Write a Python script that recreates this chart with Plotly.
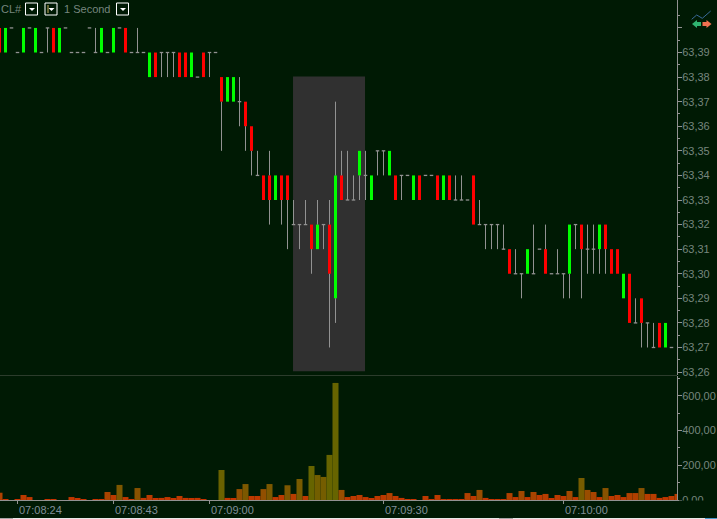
import plotly.graph_objects as go

# bar number = one second of the chart, left to right
opens = [63.40,63.39,63.40,63.39,63.39,63.40,63.39,63.39,63.40,63.40,63.39,63.40,63.39,63.39,63.39,63.40,63.39,63.39,63.39,63.39,
         63.40,63.40,63.39,63.39,63.39,63.38,63.39,63.39,63.39,63.39,63.39,63.39,63.38,63.38,63.39,63.39,63.39,63.38,63.37,63.37,
         63.37,63.37,63.36,63.34,63.34,63.34,63.33,63.34,63.34,63.32,63.32,63.32,63.32,63.31,63.32,63.32,63.29,63.34,63.33,63.33,
         63.34,63.34,63.33,63.35,63.35,63.34,63.34,63.34,63.34,63.33,63.34,63.34,63.34,63.34,63.33,63.34,63.33,63.33,63.33,63.34,
         63.32,63.32,63.32,63.32,63.31,63.31,63.30,63.30,63.30,63.30,63.31,63.31,63.30,63.30,63.30,63.30,63.32,63.32,63.31,63.31,
         63.31,63.32,63.31,63.31,63.29,63.30,63.28,63.29,63.28,63.27,63.28,63.27,63.27]
highs = [63.40,63.40,63.40,63.39,63.40,63.40,63.40,63.39,63.40,63.40,63.40,63.40,63.39,63.39,63.39,63.40,63.40,63.40,63.39,63.40,
         63.40,63.40,63.39,63.40,63.39,63.39,63.39,63.39,63.39,63.39,63.39,63.39,63.39,63.38,63.39,63.39,63.39,63.38,63.38,63.38,
         63.38,63.37,63.36,63.35,63.34,63.35,63.34,63.34,63.34,63.33,63.32,63.33,63.32,63.33,63.32,63.33,63.37,63.35,63.35,63.34,
         63.35,63.35,63.34,63.35,63.35,63.35,63.34,63.34,63.34,63.34,63.34,63.34,63.34,63.34,63.34,63.34,63.34,63.34,63.33,63.34,
         63.33,63.32,63.32,63.32,63.32,63.31,63.31,63.30,63.31,63.32,63.31,63.32,63.30,63.31,63.30,63.32,63.32,63.32,63.32,63.32,
         63.32,63.32,63.31,63.31,63.30,63.30,63.29,63.29,63.28,63.28,63.28,63.28,63.27]
lows = [63.39,63.39,63.40,63.39,63.39,63.40,63.39,63.39,63.39,63.39,63.39,63.40,63.39,63.39,63.39,63.40,63.39,63.39,63.39,63.39,
        63.40,63.39,63.39,63.39,63.39,63.38,63.38,63.38,63.38,63.38,63.38,63.38,63.38,63.38,63.38,63.38,63.39,63.35,63.37,63.37,
        63.36,63.35,63.34,63.34,63.33,63.32,63.33,63.32,63.31,63.32,63.31,63.32,63.30,63.31,63.31,63.27,63.28,63.33,63.33,63.33,
        63.33,63.33,63.33,63.34,63.34,63.34,63.33,63.33,63.34,63.33,63.33,63.34,63.34,63.33,63.33,63.33,63.33,63.33,63.33,63.32,
        63.32,63.31,63.31,63.31,63.31,63.30,63.30,63.29,63.30,63.30,63.31,63.30,63.30,63.30,63.29,63.29,63.31,63.29,63.30,63.30,
        63.30,63.30,63.30,63.30,63.29,63.28,63.28,63.27,63.27,63.27,63.27,63.27,63.27]
closes = [63.39,63.40,63.40,63.39,63.40,63.40,63.40,63.39,63.40,63.39,63.40,63.40,63.39,63.39,63.39,63.40,63.39,63.40,63.39,63.40,
          63.40,63.39,63.39,63.39,63.39,63.39,63.38,63.39,63.39,63.39,63.38,63.38,63.39,63.38,63.38,63.39,63.39,63.37,63.38,63.38,
          63.37,63.36,63.35,63.34,63.33,63.33,63.34,63.33,63.33,63.32,63.32,63.32,63.31,63.32,63.32,63.30,63.34,63.33,63.33,63.33,
          63.35,63.34,63.34,63.35,63.35,63.35,63.33,63.34,63.34,63.34,63.33,63.34,63.34,63.33,63.34,63.33,63.33,63.33,63.33,63.32,
          63.32,63.32,63.32,63.32,63.31,63.30,63.30,63.30,63.31,63.30,63.31,63.30,63.30,63.30,63.30,63.32,63.32,63.31,63.31,63.31,
          63.32,63.31,63.30,63.30,63.30,63.28,63.28,63.28,63.28,63.27,63.27,63.28,63.27]
volumes = [42,4,0,4,29,17,0,0,4,4,0,0,17,6,2,0,4,4,46,29,
           87,17,2,69,12,29,6,12,17,6,23,12,6,12,2,0,0,173,12,6,
           63,92,23,23,63,92,17,29,85,35,121,23,196,144,133,260,675,58,17,23,
           29,17,6,23,29,40,23,12,4,4,0,23,4,29,4,4,4,4,40,23,
           58,12,4,4,4,40,17,52,17,46,29,35,6,29,23,52,17,127,58,46,
           17,69,23,29,17,40,40,69,35,35,12,17,23,35]

price_ticks = [63.26,63.27,63.28,63.29,63.30,63.31,63.32,63.33,63.34,63.35,63.36,63.37,63.38,63.39,63.40]
price_labels = ["63,26","63,27","63,28","63,29","63,30","63,31","63,32","63,33","63,34","63,35","63,36","63,37","63,38","63,39",""]
vol_ticks = [0,200,400,600]
time_bars = [3,19,35,64,94]
time_labels = ["07:08:24","07:08:43","07:09:00","07:09:30","07:10:00"]

BG = "#001a04"
GREY = "#929292"
TXT = "#76867e"

# helpers for placing things by screen pixel
PLOT_W, PLOT_H = 677, 500
def px(x): return x / PLOT_W
def py(y): return (PLOT_H - y) / PLOT_H

bars = list(range(len(opens)))

# split bars into bodies / wick pieces / flat ticks
up_x, up_base, up_h = [], [], []
dn_x, dn_base, dn_h = [], [], []
wick_x, wick_y = [], []
flat_x, flat_y = [], []
for i in bars:
    top, bot = max(opens[i], closes[i]), min(opens[i], closes[i])
    if closes[i] > opens[i]:
        up_x.append(i); up_base.append(bot); up_h.append(top - bot)
    elif closes[i] < opens[i]:
        dn_x.append(i); dn_base.append(bot); dn_h.append(top - bot)
    else:
        flat_x.append(i); flat_y.append(opens[i])
    if highs[i] > top:
        wick_x += [i, i, None]; wick_y += [highs[i], top, None]
    if lows[i] < bot:
        wick_x += [i, i, None]; wick_y += [bot, lows[i], None]

fig = go.Figure()

# price pane
fig.add_trace(go.Bar(x=up_x, y=up_h, base=up_base, width=0.5, marker=dict(color="#00ff00", line=dict(width=0)), xaxis="x", yaxis="y"))
fig.add_trace(go.Bar(x=dn_x, y=dn_h, base=dn_base, width=0.5, marker=dict(color="#ff0000", line=dict(width=0)), xaxis="x", yaxis="y"))
fig.add_trace(go.Scatter(x=wick_x, y=wick_y, mode="lines", line=dict(color=GREY, width=1), xaxis="x", yaxis="y"))
fig.add_trace(go.Scatter(x=flat_x, y=flat_y, mode="markers",
                         marker=dict(symbol="line-ew", size=2.5, line=dict(color=GREY, width=1.3)), xaxis="x", yaxis="y"))

# volume pane, colour goes from red-orange to olive with size
fig.add_trace(go.Bar(x=list(range(len(volumes))), y=volumes, width=1,
                     marker=dict(color=volumes, cmin=0, cmax=190, line=dict(width=0),
                                 colorscale=[[0, "#c83200"], [0.18, "#b83c00"], [0.3, "#9a4c00"],
                                             [0.4, "#7e5600"], [0.6, "#7a5a00"], [1, "#666400"]]),
                     xaxis="x2", yaxis="y2"))

shapes = [
    # highlighted block behind the price bars
    dict(type="rect", xref="x", yref="y", x0=48.92, x1=60.92, y0=63.2603, y1=63.3802,
         fillcolor="#303030", line=dict(width=0), layer="below"),
    # pane divider
    dict(type="line", xref="paper", yref="paper", x0=0, x1=1, y0=py(375.5), y1=py(375.5), line=dict(color="#2c3c2c", width=1)),
    # hides the lower half of the 0,00 label
    dict(type="rect", xref="paper", yref="paper", x0=px(679), x1=px(717), y0=py(500.5), y1=py(518),
         fillcolor=BG, line=dict(width=0), layer="above"),
    # window edge along the bottom
    dict(type="rect", xref="paper", yref="paper", x0=0, x1=px(717), y0=py(518), y1=py(519),
         fillcolor="#e8e8e8", line=dict(width=0), layer="above"),
    dict(type="rect", xref="paper", yref="paper", x0=0, x1=px(13), y0=py(518), y1=py(519),
         fillcolor="#a8a8a8", line=dict(width=0), layer="above"),
    dict(type="rect", xref="paper", yref="paper", x0=px(499), x1=px(513), y0=py(518), y1=py(519),
         fillcolor="#a8a8a8", line=dict(width=0), layer="above"),
    dict(type="rect", xref="paper", yref="paper", x0=px(705), x1=px(717), y0=py(518), y1=py(519),
         fillcolor="#4a9ad0", line=dict(width=0), layer="above"),
]

# toolbar drop down buttons
for x0 in [25.5, 45, 116.5]:
    shapes.append(dict(type="rect", xref="paper", yref="paper", x0=px(x0), x1=px(x0 + 12), y0=py(3), y1=py(15),
                       line=dict(color="#ffffff", width=1), fillcolor=BG))
    c = x0 + 6.5
    shapes.append(dict(type="path", xref="paper", yref="paper",
                       path=f"M {px(c-3)} {py(8)} L {px(c+3)} {py(8)} L {px(c)} {py(11)} Z",
                       fillcolor="#ffffff", line=dict(width=0)))
shapes.append(dict(type="line", xref="paper", yref="paper", x0=px(48), x1=px(48), y0=py(5), y1=py(13),
                   line=dict(color="#c8b060", width=1)))

# top right icon
shapes.append(dict(type="path", xref="paper", yref="paper",
                   path=f"M {px(691.7)} {py(19.3)} L {px(696.7)} {py(15)} L {px(702.3)} {py(18.3)} L {px(710.7)} {py(11)}",
                   line=dict(color="#3a6a9a", width=1)))
shapes.append(dict(type="path", xref="paper", yref="paper",
                   path=f"M {px(692)} {py(24)} L {px(697)} {py(20)} L {px(697)} {py(22)} L {px(701)} {py(22)} L {px(701)} {py(26)} L {px(697)} {py(26)} L {px(697)} {py(28)} Z",
                   fillcolor="#2fb36f", line=dict(width=0)))
shapes.append(dict(type="path", xref="paper", yref="paper",
                   path=f"M {px(711.5)} {py(24)} L {px(706.5)} {py(20)} L {px(706.5)} {py(22)} L {px(702.5)} {py(22)} L {px(702.5)} {py(26)} L {px(706.5)} {py(26)} L {px(706.5)} {py(28)} Z",
                   fillcolor="#f07050", line=dict(width=0)))

font = dict(family="Liberation Sans", size=11, color=TXT)
annotations = [
    dict(text="CL#", xref="paper", yref="paper", x=px(1), xshift=-2, y=py(9), xanchor="left", yanchor="middle", showarrow=False, font=font),
    dict(text="1 Second", xref="paper", yref="paper", x=px(64), xshift=-2, y=py(9), xanchor="left", yanchor="middle", showarrow=False, font=font),
]
# time labels sit to the right of their tick
for b, t in zip(time_bars, time_labels):
    annotations.append(dict(text=t, xref="x2", yref="paper", x=b, xshift=-1, y=py(510), xanchor="left", yanchor="middle",
                            showarrow=False, font=dict(family="Liberation Sans", size=11, color="#80909a")))

fig.update_layout(
    width=717, height=519,
    margin=dict(l=0, r=40, t=0, b=19),
    paper_bgcolor=BG, plot_bgcolor=BG,
    showlegend=False, barmode="overlay", separators=",.",
    shapes=shapes, annotations=annotations,
    xaxis=dict(domain=[0, 1], range=[0.0833, 112.917], matches="x2", showticklabels=False, showgrid=False,
               zeroline=False, ticks="", anchor="y"),
    xaxis2=dict(domain=[0, 1], range=[0.0833, 112.917], showgrid=False, zeroline=False, anchor="y2",
                showline=True, linecolor=GREY, linewidth=1,
                tickmode="array", tickvals=time_bars, showticklabels=False,
                ticks="outside", ticklen=3, tickcolor=GREY),
    yaxis=dict(domain=[0.25, 1], range=[63.25881, 63.41136], side="right", anchor="x", showgrid=False, zeroline=False,
               showline=True, linecolor=GREY, linewidth=1,
               tickmode="array", tickvals=price_ticks, ticktext=price_labels, ticklabelstandoff=-2,
               ticks="outside", ticklen=4, tickcolor=GREY, tickfont=font,
               minor=dict(tick0=63.265, dtick=0.01, ticks="outside", ticklen=2, tickcolor=GREY)),
    yaxis2=dict(domain=[0, 0.248], range=[0, 715], side="right", anchor="x2", showgrid=False, zeroline=False,
                showline=True, linecolor=GREY, linewidth=1,
                tickmode="array", tickvals=vol_ticks, tickformat=".2f", ticklabelstandoff=-2,
                ticks="outside", ticklen=4, tickcolor=GREY, tickfont=font,
                minor=dict(tick0=100, dtick=200, ticks="outside", ticklen=2, tickcolor=GREY)),
)

fig.write_html("out.html", config=dict(displayModeBar=False),
               post_script="document.body.style.margin='0';document.body.style.background='%s';" % BG)
